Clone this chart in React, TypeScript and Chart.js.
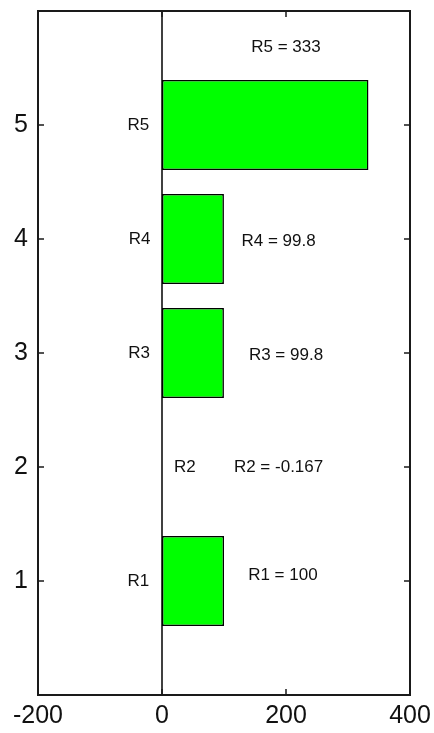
import React, { useEffect, useRef } from "react";
import { Chart, registerables } from "chart.js";

Chart.register(...registerables);

const barNames = ["R1", "R2", "R3", "R4", "R5"];
const barPositions = [1, 2, 3, 4, 5];
const barValues = [100, -0.167, 99.8, 99.8, 333];
const yTickValues = [1, 2, 3, 4, 5];
const xTickValues = [-200, 0, 200, 400];
const nameLabelX = [-38, 37, -37, -36, -38];
const nameLabelY = [1, 2, 3, 4, 5];
const valueLabelX = [195, 188, 200, 188, 200];
const valueLabelY = [1.05, 2, 2.98, 3.98, 5.68];

const FONT = "'Liberation Sans', Arial, sans-serif";

const framePlugin = {
  id: "frameAndLabels",
  afterDatasetsDraw(chart: any) {
    const { ctx, chartArea, scales } = chart;
    const xs = scales.x;
    const ys = scales.y;
    ctx.save();
    // zero line
    ctx.strokeStyle = "#000";
    ctx.lineWidth = 1.5;
    const x0 = xs.getPixelForValue(0);
    ctx.beginPath();
    ctx.moveTo(x0, chartArea.top);
    ctx.lineTo(x0, chartArea.bottom);
    ctx.stroke();
    // frame
    ctx.lineWidth = 2;
    ctx.strokeStyle = "#1a1a1a";
    ctx.strokeRect(chartArea.left, chartArea.top, chartArea.right - chartArea.left, chartArea.bottom - chartArea.top);
    // inner tick marks
    ctx.lineWidth = 1.5;
    const tl = 6;
    ctx.beginPath();
    yTickValues.forEach((v) => {
      const py = ys.getPixelForValue(v);
      ctx.moveTo(chartArea.left, py);
      ctx.lineTo(chartArea.left + tl, py);
      ctx.moveTo(chartArea.right, py);
      ctx.lineTo(chartArea.right - tl, py);
    });
    xTickValues.forEach((v) => {
      const px = xs.getPixelForValue(v);
      ctx.moveTo(px, chartArea.top);
      ctx.lineTo(px, chartArea.top + tl);
      ctx.moveTo(px, chartArea.bottom);
      ctx.lineTo(px, chartArea.bottom - tl);
    });
    ctx.stroke();
    // text annotations
    ctx.fillStyle = "#111";
    ctx.font = `17px ${FONT}`;
    ctx.textAlign = "center";
    ctx.textBaseline = "middle";
    barNames.forEach((n, i) => {
      ctx.fillText(n, xs.getPixelForValue(nameLabelX[i]), ys.getPixelForValue(nameLabelY[i]));
      ctx.fillText(
        `${n} = ${barValues[i]}`,
        xs.getPixelForValue(valueLabelX[i]),
        ys.getPixelForValue(valueLabelY[i])
      );
    });
    ctx.restore();
  },
};

export default function App() {
  const ref = useRef<HTMLCanvasElement>(null);
  useEffect(() => {
    document.body.style.margin = "0";
    const chart = new Chart(ref.current as HTMLCanvasElement, {
      type: "bar",
      data: {
        datasets: [
          {
            data: barPositions.map((p, i) => ({ x: barValues[i], y: p })),
            backgroundColor: "#00ff00",
            borderColor: "#000",
            borderWidth: 1.5,
            borderSkipped: false,
            barPercentage: 0.79,
            categoryPercentage: 1,
          },
        ],
      },
      options: {
        indexAxis: "y",
        responsive: false,
        animation: false,
        layout: { padding: { top: 11, right: 24, left: 0, bottom: 0 } },
        plugins: { legend: { display: false }, tooltip: { enabled: false } },
        scales: {
          x: {
            type: "linear",
            min: -200,
            max: 400,
            afterFit: (s: any) => {
              s.height = 38;
              s.paddingLeft = 0;
              s.paddingRight = 0;
            },
            grid: { display: false, drawTicks: false },
            border: { display: false },
            ticks: {
              stepSize: 200,
              padding: 6,
              color: "#111",
              font: { family: FONT, size: 25 },
            },
          },
          y: {
            type: "linear",
            min: 0,
            max: 6,
            offset: false,
            afterFit: (s: any) => {
              s.width = 38;
              s.paddingTop = 0;
              s.paddingBottom = 0;
            },
            grid: { display: false, drawTicks: false, offset: false },
            border: { display: false },
            ticks: {
              stepSize: 1,
              padding: 10,
              color: "#111",
              font: { family: FONT, size: 25 },
              callback: (v: any) => (yTickValues.includes(Number(v)) ? String(v) : ""),
            },
          },
        },
      },
      plugins: [framePlugin],
    });
    return () => chart.destroy();
  }, []);
  return (
    <div style={{ width: 434, height: 733, background: "#fff" }}>
      <canvas ref={ref} width={434} height={733} style={{ display: "block" }} />
    </div>
  );
}
